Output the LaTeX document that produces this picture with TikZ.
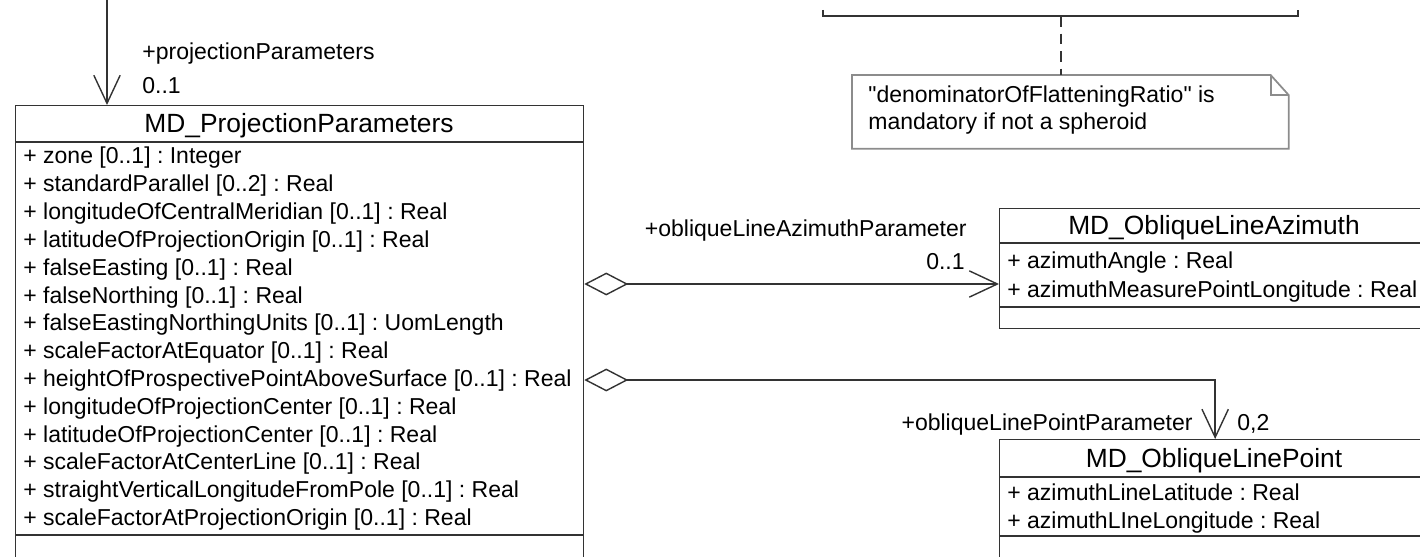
\documentclass[tikz,border=0pt]{standalone}
\usepackage{fontspec}
\setmainfont{Liberation Sans}
\usetikzlibrary{arrows.meta}
\frenchspacing

\newcommand{\titlefont}{\fontsize{15}{18}\selectfont}
\newcommand{\attrfont}{\fontsize{13.1}{15}\selectfont}
\newcommand{\labfont}{\fontsize{13.1}{15}\selectfont}

\begin{document}
\begin{tikzpicture}[x=0.02cm,y=-0.02cm,
   umlline/.style={line width=0.8pt,draw=black!80},
   classbox/.style={umlline,anchor=north west,inner sep=0pt},
   title/.style={font=\titlefont,anchor=base,inner sep=0pt},
   attr/.style={font=\attrfont,anchor=base west,inner sep=0pt},
   lab/.style={font=\labfont,inner sep=0pt},
   notestyle/.style={line width=1pt,draw=black!45},
   barb/.style={-{Straight Barb[length=16pt,width=15pt]}},
   aggr/.style={{Diamond[open,length=25pt,width=13pt]}-{Straight Barb[length=16pt,width=15pt]}}]
   \useasboundingbox (0,0) rectangle (1420,557);
   \clip (0,0) rectangle (1420,557);

   %% Klassen
   \node[classbox,minimum width=11.36cm,minimum height=10cm] (projbox) at (15,105) {};
   \node[classbox,minimum width=8.62cm,minimum height=2.4cm] (azimbox) at (999,208) {};
   \node[classbox,minimum width=8.62cm,minimum height=3.4cm] (pointbox) at (999,439) {};

   \draw[umlline] (projbox.west |- 0,142) -- (projbox.east |- 0,142);
   \draw[umlline] (projbox.west |- 0,535) -- (projbox.east |- 0,535);
   \draw[umlline] (azimbox.west |- 0,243) -- (azimbox.east |- 0,243);
   \draw[umlline] (azimbox.west |- 0,307) -- (azimbox.east |- 0,307);
   \draw[umlline] (pointbox.west |- 0,477) -- (pointbox.east |- 0,477);
   \draw[umlline] (pointbox.west |- 0,536) -- (pointbox.east |- 0,536);

   \node[title] (projtitle) at (299,133) {MD\_ProjectionParameters};
   \node[title] (azimtitle) at (1214,235) {MD\_ObliqueLineAzimuth};
   \node[title] (pointtitle) at (1214,467) {MD\_ObliqueLinePoint};

   %% Attribute
   \node[attr] (pa1) at (23,164) {+ zone [0..1] : Integer};
   \node[attr] (pa2) at (23,191.8) {+ standardParallel [0..2] : Real};
   \node[attr] (pa3) at (23,219.6) {+ longitudeOfCentralMeridian [0..1] : Real};
   \node[attr] (pa4) at (23,247.4) {+ latitudeOfProjectionOrigin [0..1] : Real};
   \node[attr] (pa5) at (23,275.2) {+ falseEasting [0..1] : Real};
   \node[attr] (pa6) at (23,303) {+ falseNorthing [0..1] : Real};
   \node[attr] (pa7) at (23,330.8) {+ falseEastingNorthingUnits [0..1] : UomLength};
   \node[attr] (pa8) at (23,358.6) {+ scaleFactorAtEquator [0..1] : Real};
   \node[attr] (pa9) at (23,386.4) {+ heightOfProspectivePointAboveSurface [0..1] : Real};
   \node[attr] (pa10) at (23,414.2) {+ longitudeOfProjectionCenter [0..1] : Real};
   \node[attr] (pa11) at (23,442) {+ latitudeOfProjectionCenter [0..1] : Real};
   \node[attr] (pa12) at (23,469.8) {+ scaleFactorAtCenterLine [0..1] : Real};
   \node[attr] (pa13) at (23,497.6) {+ straightVerticalLongitudeFromPole [0..1] : Real};
   \node[attr] (pa14) at (23,525.4) {+ scaleFactorAtProjectionOrigin [0..1] : Real};

   \node[attr] (aa1) at (1007,269) {+ azimuthAngle : Real};
   \node[attr] (aa2) at (1007,297) {+ azimuthMeasurePointLongitude : Real};

   \node[attr] (pt1) at (1007,500) {+ azimuthLineLatitude : Real};
   \node[attr] (pt2) at (1007,528) {+ azimuthLIneLongitude : Real};

   %% Notiz
   \draw[umlline] (823,10) -- (823,16) -- (1298,16) -- (1298,10);
   \coordinate (ratiobox) at (1061,16);
   \node[minimum width=8.72cm,minimum height=1.46cm,anchor=north west,inner sep=0pt] (note) at (852,75) {};
   \draw[notestyle] (note.north west) -- ([xshift=-0.36cm]note.north east)
      -- ([yshift=-0.4cm]note.north east) -- (note.south east) -- (note.south west) -- cycle;
   \draw[notestyle] ([xshift=-0.36cm]note.north east) |- ([yshift=-0.4cm]note.north east);
   \draw[umlline,dash pattern=on 6pt off 4pt] (ratiobox) -- (ratiobox |- note.north);
   \node[lab,anchor=base west] (notetxt1) at (868,103) {\textquotedbl denominatorOfFlatteningRatio\textquotedbl{} is};
   \node[lab,anchor=base west] (notetxt2) at (868,130) {mandatory if not a spheroid};

   %% Assoziationen
   \coordinate (projsrc) at (107,0);
   \draw[umlline,barb] (projsrc) -- (projsrc |- projbox.north);
   \node[lab,anchor=base west] (projrole) at (142,60) {+projectionParameters};
   \node[lab,anchor=base west] (projmult) at (142,94) {0..1};

   \draw[umlline,aggr] (projbox.east |- 0,284) -- (azimbox.west |- 0,284);
   \node[lab,anchor=base east] (azimrole) at (967,236) {+obliqueLineAzimuthParameter};
   \node[lab,anchor=base east] (azimmult) at (965,270) {0..1};

   \draw[umlline,aggr] (projbox.east |- 0,380) -| (pointbox.north);
   \node[lab,anchor=base east] (pointrole) at (1193,430) {+obliqueLinePointParameter};
   \node[lab,anchor=base west] (pointmult) at (1237,430) {0,2};
\end{tikzpicture}
\end{document}
